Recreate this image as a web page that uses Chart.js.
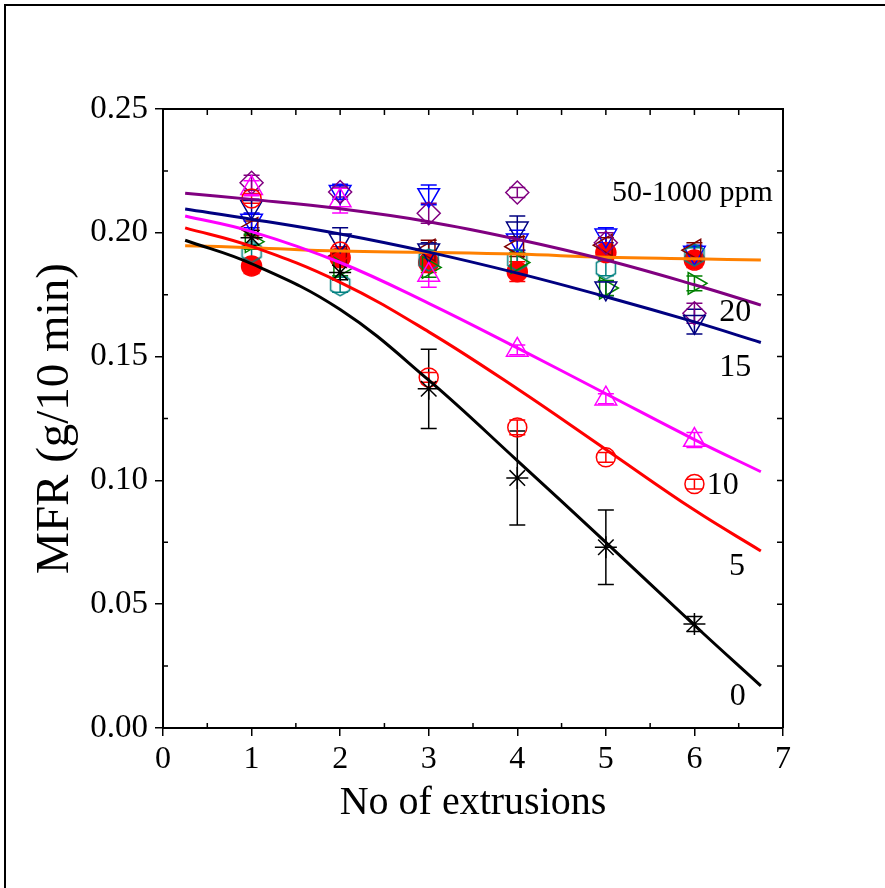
<!DOCTYPE html>
<html>
<head>
<meta charset="utf-8">
<script src="https://cdn.jsdelivr.net/npm/chart.js@4"></script>
<style>
  body { margin: 0; background: #fff; }
</style>
</head>
<body>
<canvas id="myChart" width="885" height="888"></canvas>
<script>
// number of extrusions for the measured points
const runs = [1, 2, 3, 4, 5, 6];

// measured MFR (g/10 min) and error half-widths
const ppm0 = [0.198, 0.184, 0.137, 0.101, 0.073, 0.042];
const ppm0Err = [0.003, 0.003, 0.016, 0.019, 0.015, 0.003];
const ppm5 = [0.2139, 0.1924, 0.1416, 0.1214, 0.1093, 0.0985];
const ppm5Err = [0.002, 0.002, 0.002, 0.003, 0.002, 0.002];
const ppm10 = [0.218, 0.213, 0.183, 0.1527, 0.133, 0.1163];
const ppm10Err = [0.003, 0.005, 0.005, 0.002, 0.002, 0.003];
const ppm15 = [0.2105, 0.197, 0.193, 0.2018, 0.1776, 0.1641];
const ppm15Err = [0.003, 0.005, 0.003, 0.005, 0.003, 0.005];
const ppm20 = [0.2202, 0.2165, 0.2079, 0.2163, 0.196, 0.1675];
const ppm20Err = [0.003, 0.002, 0.004, 0.002, 0.004, 0.004];
const hiFilled = [0.1866, 0.190, 0.188, 0.1843, 0.192, 0.189];
const hiLeft = [0.2018, 0.1904, 0.193, 0.1944, 0.195, 0.193];
const hiRight = [0.1964, 0.1857, 0.186, 0.188, 0.1777, 0.1796];
const hiHex = [0.1924, 0.179, 0.189, 0.189, 0.1857, 0.191];
const hiDown = [0.205, 0.2166, 0.2153, 0.197, 0.199, 0.192];
const hiErr = [0.003, 0.003, 0.004, 0.004, 0.003, 0.003];

// fitted curves
const fitX = [0.25, 1, 2, 3, 4, 5, 6, 6.75];
const fit0 = [0.197, 0.1875, 0.169, 0.1405, 0.108, 0.075, 0.0415, 0.017];
const fit5 = [0.202, 0.1945, 0.180, 0.160, 0.137, 0.1125, 0.088, 0.0715];
const fit10 = [0.2068, 0.2005, 0.188, 0.1715, 0.1535, 0.135, 0.1165, 0.1035];
const fit15 = [0.2096, 0.2055, 0.1995, 0.1922, 0.1837, 0.1742, 0.164, 0.1557];
const fit20 = [0.216, 0.2135, 0.2097, 0.2045, 0.1974, 0.189, 0.179, 0.1708];
const fitHi = [0.1948, 0.194, 0.1926, 0.1921, 0.1914, 0.1901, 0.1895, 0.189];

// curve labels (data coordinates)
const labelText = ['50-1000 ppm', '20', '15', '10', '5', '0'];
const labelX = [5.07, 6.46, 6.46, 6.32, 6.48, 6.49];
const labelY = [0.216, 0.1676, 0.1454, 0.0981, 0.065, 0.0125];

const serif = 'Liberation Serif';

function pts(xs, ys) {
  return xs.map((x, i) => ({x: x, y: ys[i]}));
}

function hexagon(color, r) {
  const c = document.createElement('canvas');
  c.width = c.height = 2 * r + 4;
  const g = c.getContext('2d');
  g.strokeStyle = color;
  g.lineWidth = 1.5;
  g.beginPath();
  for (let i = 0; i < 6; i++) {
    const a = Math.PI / 3 * i;
    const px = r + 2 + r * Math.sin(a), py = r + 2 - r * Math.cos(a);
    if (i === 0) g.moveTo(px, py); else g.lineTo(px, py);
  }
  g.closePath();
  g.stroke();
  return c;
}

function fitLine(ys, color) {
  return {
    type: 'line', data: pts(fitX, ys), borderColor: color, borderWidth: 3,
    pointRadius: 0, fill: false, tension: 0.4
  };
}

function markers(ys, errs, color, style, size, rot, filled) {
  return {
    type: 'scatter', data: pts(runs, ys), errors: errs,
    borderColor: color, backgroundColor: filled ? color : 'rgba(0,0,0,0)',
    pointStyle: style, rotation: rot || 0, pointRadius: size, borderWidth: 1.5
  };
}

const errorBars = {
  id: 'errorBars',
  beforeDatasetsDraw(chart) {
    const {ctx, scales: {x, y}} = chart;
    chart.data.datasets.forEach(ds => {
      if (!ds.errors) return;
      ctx.save();
      ctx.strokeStyle = ds.borderColor;
      ctx.lineWidth = 1.5;
      ds.data.forEach((p, j) => {
        const e = ds.errors[j];
        const px = x.getPixelForValue(p.x);
        const top = y.getPixelForValue(p.y + e), bot = y.getPixelForValue(p.y - e);
        ctx.beginPath();
        ctx.moveTo(px, top); ctx.lineTo(px, bot);
        ctx.moveTo(px - 8, top); ctx.lineTo(px + 8, top);
        ctx.moveTo(px - 8, bot); ctx.lineTo(px + 8, bot);
        ctx.stroke();
      });
      ctx.restore();
    });
  }
};

const decor = {
  id: 'decor',
  afterDraw(chart) {
    const {ctx, chartArea: a, scales: {x, y}} = chart;
    ctx.save();
    ctx.strokeStyle = '#000';
    ctx.lineWidth = 2;
    ctx.strokeRect(5, 5, 900, 900);
    ctx.beginPath();
    ctx.moveTo(a.left, a.top); ctx.lineTo(a.right, a.top); ctx.lineTo(a.right, a.bottom);
    ctx.stroke();
    ctx.lineWidth = 1.5;
    ctx.beginPath();
    for (let v = 0; v <= 7.001; v += 0.5) {
      const px = x.getPixelForValue(v);
      ctx.moveTo(px, a.top); ctx.lineTo(px, a.top + 6);
      if (Math.abs(v - Math.round(v)) > 0.01) {
        ctx.moveTo(px, a.bottom); ctx.lineTo(px, a.bottom - 5);
      }
    }
    for (let v = 0; v <= 0.2501; v += 0.025) {
      const py = y.getPixelForValue(v);
      ctx.moveTo(a.right, py); ctx.lineTo(a.right - 6, py);
      if (Math.abs(v / 0.05 - Math.round(v / 0.05)) > 0.01) {
        ctx.moveTo(a.left, py); ctx.lineTo(a.left + 5, py);
      }
    }
    ctx.stroke();
    ctx.fillStyle = '#000';
    ctx.textBaseline = 'middle';
    labelText.forEach((t, i) => {
      ctx.font = (i === 0 ? 30 : 32) + 'px "' + serif + '"';
      ctx.textAlign = i === 0 ? 'left' : 'center';
      ctx.fillText(t, x.getPixelForValue(labelX[i]), y.getPixelForValue(labelY[i]));
    });
    ctx.restore();
  }
};

const ctx = document.getElementById('myChart').getContext('2d');

// first dataset is painted on top, so the filled circles go last
const chart = new Chart(ctx, {
  data: {
    datasets: [
      fitLine(fit0, '#000000'),
      fitLine(fit5, '#FF0000'),
      fitLine(fit10, '#FF00FF'),
      fitLine(fit15, '#000080'),
      fitLine(fit20, '#800080'),
      fitLine(fitHi, '#FF8000'),
      markers(ppm0, ppm0Err, '#000000', 'star', 11),
      markers(ppm5, ppm5Err, '#FF0000', 'circle', 9.5),
      markers(ppm10, ppm10Err, '#FF00FF', 'triangle', 12.5),
      markers(ppm15, ppm15Err, '#000080', 'triangle', 12.5, 180),
      markers(ppm20, ppm20Err, '#800080', 'rectRot', 11.5),
      markers(hiLeft, hiErr, '#800000', 'triangle', 12.5, 270),
      markers(hiRight, hiErr, '#008000', 'triangle', 12.5, 90),
      markers(hiHex, hiErr, '#008080', hexagon('#008080', 11), 11),
      markers(hiDown, hiErr, '#0000FF', 'triangle', 12.5, 180),
      markers(hiFilled, hiErr, '#FF0000', 'circle', 10, 0, true)
    ]
  },
  options: {
    responsive: false,
    animation: false,
    devicePixelRatio: 1,
    layout: {padding: {left: 0, top: 109, right: 102, bottom: 0}},
    plugins: {legend: {display: false}, tooltip: {enabled: false}},
    scales: {
      x: {
        type: 'linear', min: 0, max: 7,
        ticks: {stepSize: 1, color: '#000', padding: 4, font: {family: serif, size: 32}},
        grid: {drawOnChartArea: false, tickLength: 8, color: '#000', lineWidth: 1.5},
        border: {color: '#000', width: 2},
        title: {display: true, text: 'No of extrusions', color: '#000',
                font: {family: serif, size: 40}, padding: {top: 0, bottom: 61}},
        afterFit(s) { s.height = 160; }
      },
      y: {
        type: 'linear', min: 0, max: 0.25,
        ticks: {stepSize: 0.05, color: '#000', padding: 7, font: {family: serif, size: 33},
                callback: v => v.toFixed(2)},
        grid: {drawOnChartArea: false, tickLength: 8, color: '#000', lineWidth: 1.5},
        border: {color: '#000', width: 2},
        title: {display: true, text: 'MFR (g/10 min)', color: '#000',
                font: {family: serif, size: 47}, padding: {top: 27, bottom: 0}},
        afterFit(s) { s.width = 163; }
      }
    }
  },
  plugins: [errorBars, decor]
});
</script>
</body>
</html>
